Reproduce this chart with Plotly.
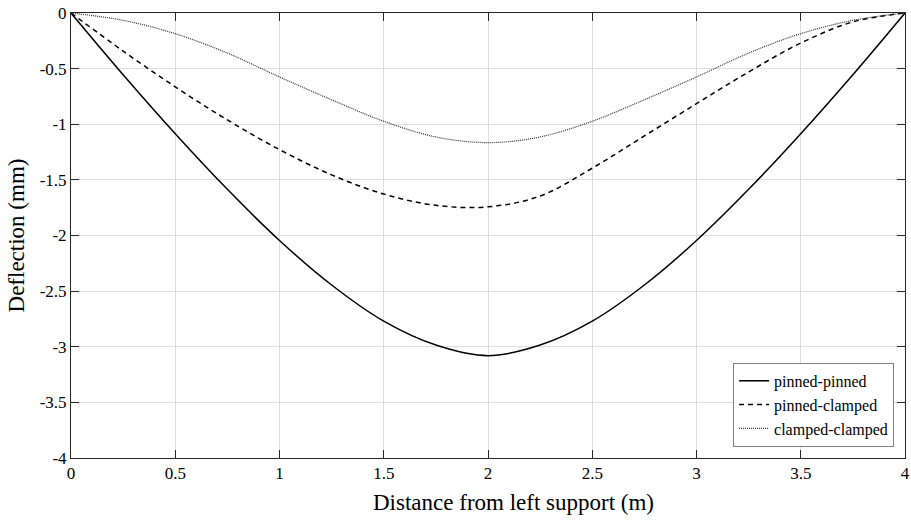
import plotly.graph_objects as go

x_m = [0, 0.25, 0.5, 0.75, 1.0, 1.25, 1.5, 1.75, 2.0, 2.25, 2.5, 2.75, 3.0, 3.25, 3.5, 3.75, 4.0]
pinned_pinned = [0, -0.555, -1.085, -1.585, -2.045, -2.445, -2.77, -2.985, -3.08,
                 -2.985, -2.77, -2.445, -2.045, -1.585, -1.085, -0.555, 0]
pinned_clamped = [0, -0.342, -0.664, -0.961, -1.228, -1.455, -1.627, -1.729, -1.742,
                  -1.645, -1.395, -1.105, -0.815, -0.53, -0.27, -0.08, 0]
clamped_clamped = [0, -0.066, -0.186, -0.36, -0.575, -0.78, -0.973, -1.114, -1.165,
                   -1.114, -0.973, -0.78, -0.575, -0.36, -0.186, -0.066, 0]

x_ticks = [0, 0.5, 1, 1.5, 2, 2.5, 3, 3.5, 4]
x_tick_text = ["0", "0.5", "1", "1.5", "2", "2.5", "3", "3.5", "4"]
y_ticks = [0, -0.5, -1, -1.5, -2, -2.5, -3, -3.5, -4]
y_tick_text = ["0", "-0.5", "-1", "-1.5", "-2", "-2.5", "-3", "-3.5", "-4"]

FONT = "Liberation Serif, Times New Roman, serif"
AX = "#262626"

fig = go.Figure()
fig.add_trace(go.Scatter(x=x_m, y=pinned_pinned, mode="lines", name="pinned-pinned",
                         line=dict(color="#000000", width=1.5, shape="spline", smoothing=1.0)))
fig.add_trace(go.Scatter(x=x_m, y=pinned_clamped, mode="lines", name="pinned-clamped",
                         line=dict(color="#000000", width=1.5, dash="5px,4px", shape="spline", smoothing=1.0)))
fig.add_trace(go.Scatter(x=x_m, y=clamped_clamped, mode="lines", name="clamped-clamped",
                         line=dict(color="#333333", width=1.2, dash="1px,1px", shape="spline", smoothing=1.0)))

axis_common = dict(
    showgrid=True, gridcolor="#dedede", gridwidth=1,
    showline=True, linecolor=AX, linewidth=1, mirror="ticks",
    ticks="inside", ticklen=8, tickcolor=AX, tickwidth=1,
    zeroline=False, automargin=False, ticklabeloverflow="allow",
    tickfont=dict(family=FONT, size=17, color="#000000"),
)

fig.update_xaxes(range=[0, 4], tickvals=x_ticks, ticktext=x_tick_text, **axis_common)
fig.update_yaxes(range=[-4, 0], tickvals=y_ticks, ticktext=y_tick_text,
                 title=dict(text="Deflection (mm)",
                            font=dict(family=FONT, size=23, color="#000000"), standoff=8),
                 **axis_common)

fig.add_annotation(text="Distance from left support (m)", xref="paper", yref="paper",
                   x=0.53, y=0, xanchor="center", yanchor="middle", yshift=-44,
                   showarrow=False, font=dict(family=FONT, size=23, color="#000000"))

fig.update_layout(
    width=911, height=520,
    margin=dict(l=71, r=6, t=13, b=62),
    plot_bgcolor="#ffffff", paper_bgcolor="#ffffff",
    font=dict(family=FONT, color="#000000"),
    legend=dict(x=0.9869, y=0.025, xanchor="right", yanchor="bottom",
                bgcolor="#ffffff", bordercolor="#7f7f7f", borderwidth=1,
                font=dict(family=FONT, size=16, color="#000000"),
                tracegroupgap=0, itemwidth=30),
    showlegend=True,
)

fig.write_html("out.html",
               config={"displayModeBar": False},
               post_script="document.body.style.margin='0';document.body.style.overflow='hidden';")
